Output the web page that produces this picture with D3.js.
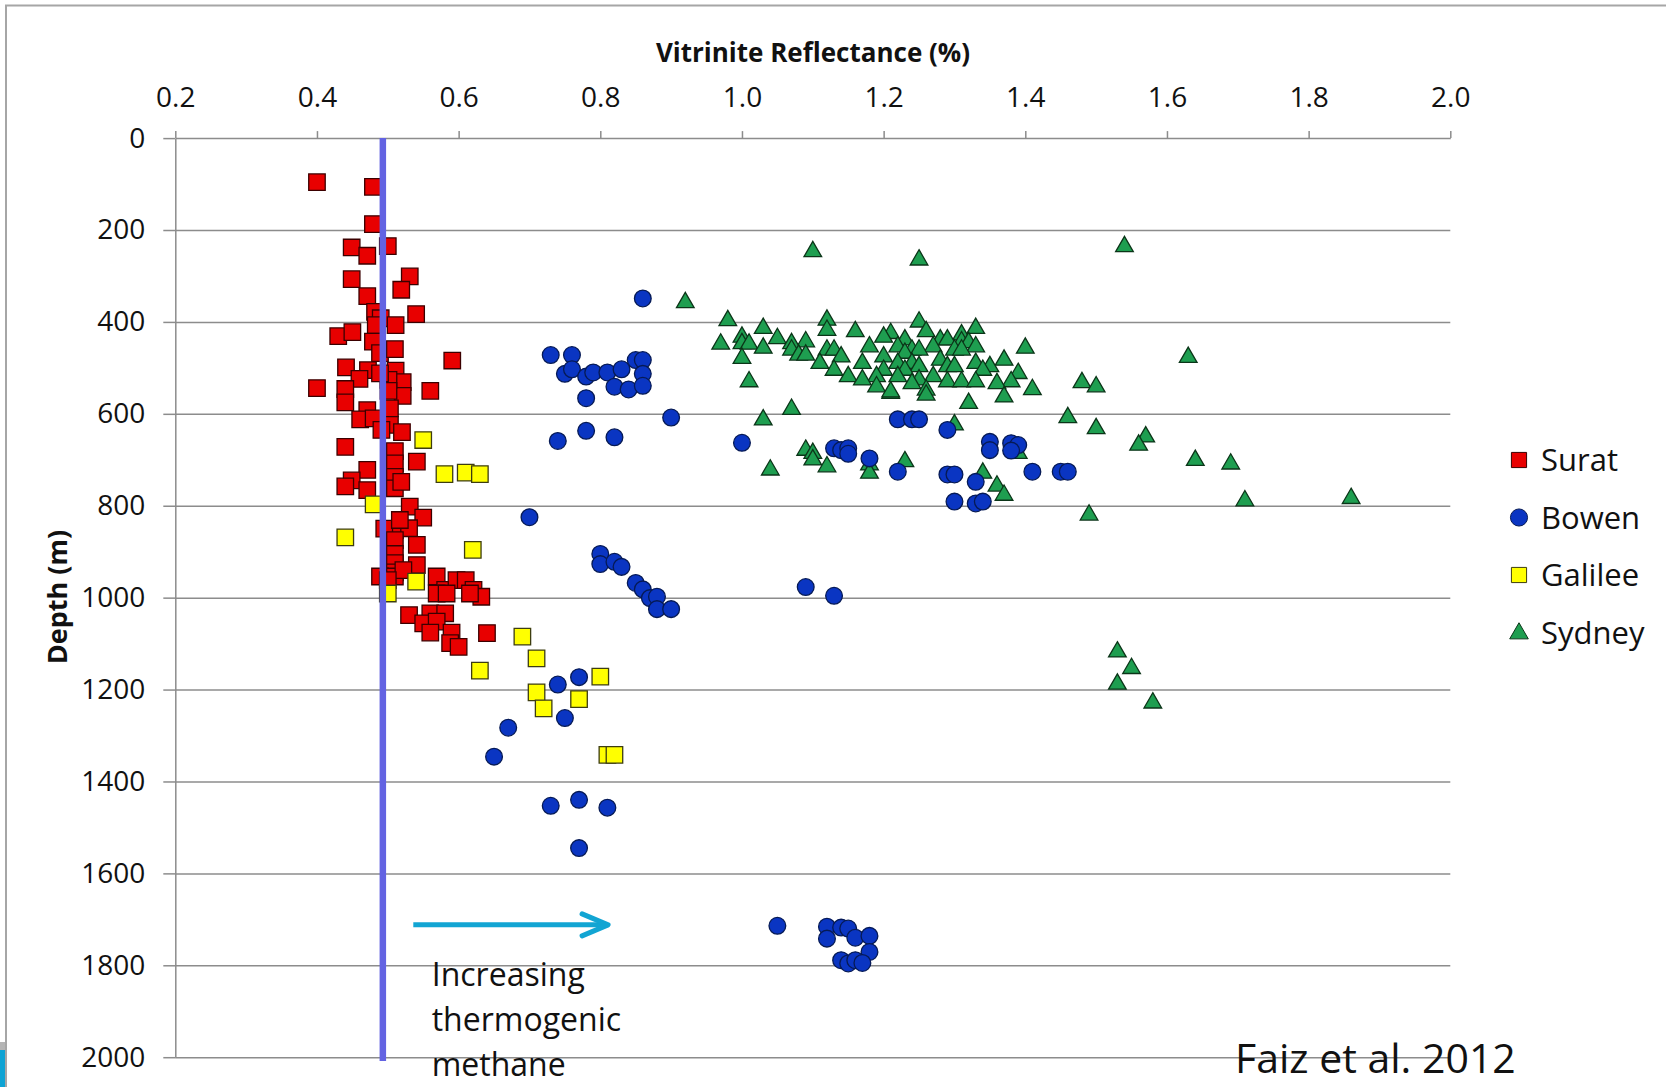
<!DOCTYPE html>
<html lang="en">
<head>
<meta charset="UTF-8">
<title>Vitrinite reflectance vs depth</title>
<style>
  body { margin: 0; background: #fff; }
  svg text { font-family: "Open Sans", sans-serif; fill: #111; }
  .axis path, .axis line { stroke: #8c8c8c; stroke-width: 1.5; }
  .grid line { stroke: #8c8c8c; stroke-width: 1.5; }
  .grid path { display: none; }
</style>
</head>
<body>
<svg id="chart" width="1666" height="1087"></svg>
<script src="https://d3js.org/d3.v7.min.js"></script>
<script>
// legend / series names
var basins = ["Surat", "Bowen", "Galilee", "Sydney"];

// axis ticks
var xTicks = [0.2, 0.4, 0.6, 0.8, 1.0, 1.2, 1.4, 1.6, 1.8, 2.0];
var yTicks = [0, 200, 400, 600, 800, 1000, 1200, 1400, 1600, 1800, 2000];

// [vitrinite reflectance %, depth m]
var surat = [
  [0.40,96],[0.479,106],[0.479,187],[0.50,235],[0.449,238],[0.471,256],[0.531,301],[0.449,307],
  [0.519,330],[0.471,344],[0.54,383],[0.482,378],[0.49,392],[0.511,407],[0.43,431],[0.45,422],
  [0.483,407],[0.479,443],[0.489,468],[0.51,459],[0.591,484],[0.441,499],[0.472,505],[0.46,524],
  [0.40,544],[0.44,546],[0.44,575],[0.511,506],[0.521,531],[0.521,561],[0.501,526],[0.501,550],
  [0.56,550],[0.489,512],[0.471,592],[0.461,612],[0.48,610],[0.503,588],[0.503,624],[0.52,640],
  [0.491,635],[0.44,672],[0.51,681],[0.541,704],[0.51,708],[0.471,722],[0.449,745],[0.44,758],
  [0.471,766],[0.51,737],[0.51,762],[0.519,748],[0.531,802],[0.55,826],[0.51,853],[0.53,849],
  [0.495,850],[0.541,885],[0.51,875],[0.517,831],[0.51,905],[0.541,929],[0.51,925],[0.51,945],
  [0.489,954],[0.51,954],[0.522,940],[0.50,962],[0.569,954],[0.581,983],[0.597,962],[0.61,962],
  [0.621,983],[0.632,998],[0.569,991],[0.583,991],[0.616,991],[0.53,1038],[0.56,1034],[0.581,1034],
  [0.55,1056],[0.569,1052],[0.56,1076],[0.59,1076],[0.64,1077],[0.588,1099],[0.60,1107]
];

var bowen = [
  [0.86,349],[0.73,472],[0.76,472],[0.75,513],[0.76,503],[0.78,519],[0.79,510],[0.81,510],
  [0.83,503],[0.82,541],[0.84,547],[0.85,483],[0.86,483],[0.86,513],[0.86,539],[0.78,566],
  [0.90,608],[0.74,659],[0.78,637],[0.82,651],[1.00,663],[1.22,612],[1.24,612],[1.25,612],
  [1.29,635],[1.13,675],[1.14,679],[1.15,675],[1.15,687],[1.18,697],[1.22,726],[1.29,732],
  [1.30,732],[1.33,748],[1.30,791],[1.33,795],[1.34,791],[1.35,661],[1.35,679],[1.38,664],
  [1.39,668],[1.38,680],[1.41,726],[1.45,726],[1.46,726],[0.70,825],[0.80,905],[0.80,927],
  [0.82,922],[0.83,933],[0.85,968],[0.86,982],[0.87,1001],[0.88,998],[0.88,1025],[0.90,1025],
  [1.09,977],[1.13,996],[0.74,1189],[0.77,1173],[0.75,1262],[0.67,1283],[0.65,1346],[0.73,1453],
  [0.77,1440],[0.81,1457],[0.77,1545],[1.05,1714],[1.12,1716],[1.14,1718],[1.15,1720],[1.12,1742],
  [1.16,1740],[1.18,1736],[1.18,1771],[1.14,1789],[1.15,1796],[1.16,1789],[1.17,1795]
];

var galilee = [
  [0.55,657],[0.58,731],[0.61,728],[0.63,731],[0.48,797],[0.44,869],[0.62,896],[0.54,965],
  [0.50,991],[0.69,1085],[0.71,1132],[0.63,1159],[0.71,1206],[0.72,1241],[0.80,1172],[0.77,1221],
  [0.81,1342],[0.82,1342]
];

var sydney = [
  [1.10,247],[1.25,265],[1.54,236],[0.92,358],[1.63,477],
  [0.98,397],[1.12,396],[1.25,400],[1.33,414],[1.03,414],[1.12,418],[1.16,421],[1.26,421],
  [1.21,425],[1.31,428],[1.00,433],[1.05,436],[1.20,433],[1.23,439],[1.28,439],[1.29,439],
  [1.09,443],[1.31,443],[1.32,445],[0.97,448],[1.00,447],[1.01,448],[1.07,447],[1.18,454],
  [1.22,454],[1.27,454],[1.33,454],[1.40,457],[1.03,457],[1.12,461],[1.13,461],[1.07,461],
  [1.24,461],[1.25,461],[1.30,461],[1.31,461],[1.23,468],[1.14,476],[1.20,476],[1.08,472],
  [1.09,472],[1.00,479],[1.37,483],[1.28,483],[1.11,490],[1.17,490],[1.22,490],[1.24,490],
  [1.33,490],[1.25,497],[1.29,497],[1.30,497],[1.35,497],[1.13,505],[1.20,505],[1.23,505],
  [1.34,505],[1.39,512],[1.15,519],[1.19,519],[1.22,519],[1.27,519],[1.17,526],[1.25,526],
  [1.29,530],[1.31,530],[1.33,530],[1.38,530],[1.36,534],[1.24,534],[1.01,530],[1.48,532],
  [1.19,541],[1.50,541],[1.41,547],[1.26,548],[1.21,555],[1.21,552],[1.37,563],[1.26,559],
  [1.32,577],[1.03,613],[1.07,590],[1.30,624],[1.46,608],[1.50,632],[1.57,650],[1.56,668],
  [1.09,679],[1.10,686],[1.10,700],[1.04,722],[1.12,715],[1.18,711],[1.18,729],[1.23,704],
  [1.34,729],[1.36,757],[1.37,777],[1.39,686],[1.64,701],[1.69,709],[1.71,789],[1.86,784],
  [1.49,820],[1.53,1118],[1.55,1154],[1.53,1188],[1.58,1229]
];

var threshold = 0.493; // vertical marker line (Ro %)

var svg = d3.select("#chart");

// plot area
var x = d3.scaleLinear().domain([0.2, 2.0]).range([175.3, 1450.3]);
var y = d3.scaleLinear().domain([0, 2000]).range([138.1, 1057.2]);

// slide border
svg.append("path")
  .attr("d", "M6,1087 V5.5 H1666")
  .attr("fill", "none")
  .attr("stroke", "#a6a6a6")
  .attr("stroke-width", 2);
svg.append("rect").attr("x", 0).attr("y", 1042).attr("width", 5).attr("height", 8).attr("fill", "#b5b5b5");
svg.append("rect").attr("x", 0).attr("y", 1050).attr("width", 5).attr("height", 37).attr("fill", "#0ea3d4");

// horizontal gridlines
svg.append("g")
  .attr("class", "grid")
  .attr("transform", "translate(" + x(0.2) + ",0)")
  .call(d3.axisLeft(y).tickValues(yTicks.slice(1)).tickSize(-(x(2.0) - x(0.2))).tickFormat(""));

// left axis with outer ticks
svg.append("g")
  .attr("class", "axis")
  .attr("transform", "translate(" + x(0.2) + ",0)")
  .call(d3.axisLeft(y).tickValues(yTicks).tickSize(12).tickSizeOuter(0).tickPadding(18).tickFormat(d3.format("d")))
  .call(function (g) {
    g.selectAll("text").style("font-size", "28px").attr("fill", "#111");
  });

// top axis
svg.append("g")
  .attr("class", "axis")
  .attr("transform", "translate(0," + y(0) + ")")
  .call(d3.axisTop(x).tickValues(xTicks).tickSize(7).tickSizeOuter(0).tickPadding(24).tickFormat(d3.format(".1f")))
  .call(function (g) {
    g.selectAll("text").style("font-size", "28px").attr("fill", "#111");
  });

// axis titles
svg.append("text")
  .attr("x", 813).attr("y", 62)
  .attr("text-anchor", "middle")
  .style("font-size", "26px").style("font-weight", "bold")
  .text("Vitrinite Reflectance (%)");

svg.append("text")
  .attr("transform", "translate(67,597) rotate(-90)")
  .attr("text-anchor", "middle")
  .style("font-size", "27px").style("font-weight", "bold")
  .text("Depth (m)");

// marker styles per basin
var styles = {
  Surat:   { shape: d3.symbolSquare,   size: 272, fill: "#e80000", stroke: "#3b0000" },
  Bowen:   { shape: d3.symbolCircle,   size: 220, fill: "#0a35c2", stroke: "#061a55" },
  Galilee: { shape: d3.symbolSquare,   size: 272, fill: "#ffff00", stroke: "#3d3d10" },
  Sydney:  { shape: d3.symbolTriangle, size: 135, fill: "#1e9e50", stroke: "#0b3518" }
};
var seriesData = { Surat: surat, Bowen: bowen, Galilee: galilee, Sydney: sydney };
var drawOrder = ["Sydney", "Surat", "Bowen", "Galilee"];

drawOrder.forEach(function (name) {
  var s = styles[name];
  svg.append("g")
    .selectAll("path")
    .data(seriesData[name])
    .enter()
    .append("path")
      .attr("transform", function (d) { return "translate(" + x(d[0]) + "," + y(d[1]) + ")"; })
      .attr("d", d3.symbol().type(s.shape).size(s.size))
      .attr("fill", s.fill)
      .attr("stroke", s.stroke)
      .attr("stroke-width", 1.3);
});

// vertical Ro line
svg.append("line")
  .attr("x1", x(threshold)).attr("x2", x(threshold))
  .attr("y1", y(0)).attr("y2", y(2008))
  .attr("stroke", "#6363e2")
  .attr("stroke-width", 6.5);

// arrow annotation
var arrowY = y(1712);
var ax1 = x(0.536), ax2 = x(0.811);
svg.append("line")
  .attr("x1", ax1).attr("x2", ax2 - 2)
  .attr("y1", arrowY).attr("y2", arrowY)
  .attr("stroke", "#12a5d3").attr("stroke-width", 5);
svg.append("path")
  .attr("d", "M" + (ax2 - 26) + "," + (arrowY - 11) + " L" + ax2 + "," + arrowY + " L" + (ax2 - 26) + "," + (arrowY + 11))
  .attr("fill", "none")
  .attr("stroke", "#12a5d3").attr("stroke-width", 5)
  .attr("stroke-linecap", "round").attr("stroke-linejoin", "round");

var note = svg.append("text")
  .attr("x", x(0.562)).attr("y", y(1845))
  .style("font-size", "32px");
["Increasing", "thermogenic", "methane"].forEach(function (t, i) {
  note.append("tspan").attr("x", x(0.562)).attr("dy", i === 0 ? 0 : 45).text(t);
});

// legend
var legend = svg.append("g").attr("transform", "translate(1519,460)");
basins.forEach(function (name, i) {
  var s = styles[name];
  var row = legend.append("g").attr("transform", "translate(0," + (i * 57.5) + ")");
  row.append("path")
    .attr("d", d3.symbol().type(s.shape).size(s.shape === d3.symbolTriangle ? 150 : 230))
    .attr("transform", s.shape === d3.symbolTriangle ? "translate(0,1)" : null)
    .attr("fill", s.fill)
    .attr("stroke", s.stroke)
    .attr("stroke-width", 1);
  row.append("text")
    .attr("x", 22).attr("y", 0).attr("dy", "0.36em")
    .style("font-size", "31px")
    .text(name);
});

// source
svg.append("text")
  .attr("x", 1235).attr("y", 1073)
  .style("font-size", "41px")
  .text("Faiz et al. 2012");
</script>
</body>
</html>
